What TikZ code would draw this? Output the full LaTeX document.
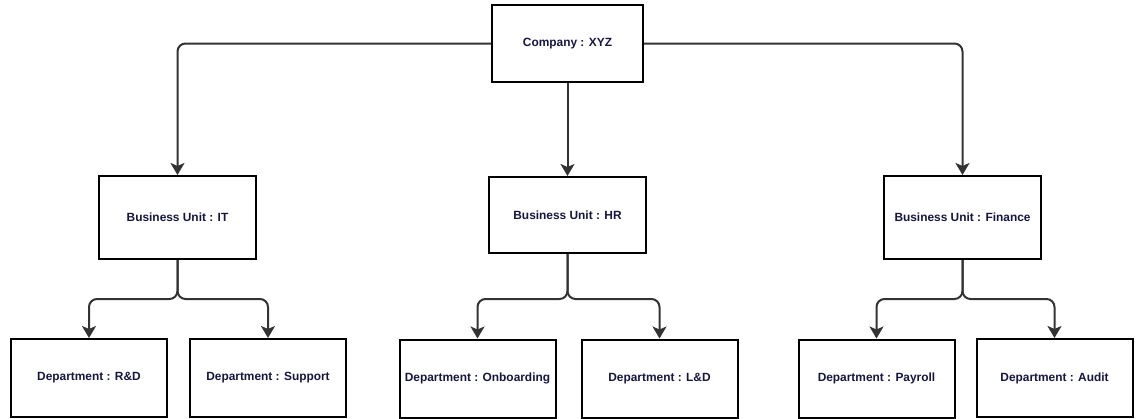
\documentclass[tikz,border=0pt]{standalone}
\usepackage{fontspec}
\setmainfont{Liberation Sans}
\usetikzlibrary{arrows.meta,positioning}
\definecolor{navytext}{HTML}{16163F}
\definecolor{linkgray}{HTML}{333333}

\begin{document}
\begin{tikzpicture}[
  x=1pt, y=-1pt,
  unit/.style={draw=black, line width=2pt, fill=white, inner sep=0pt,
    font=\fontsize{11.9}{13}\selectfont\bfseries, text=navytext},
  top/.style={unit, minimum width=151pt, minimum height=77pt},
  bu/.style={unit, minimum width=157pt, minimum height=83pt},
  dept/.style={unit, minimum width=156pt, minimum height=78pt},
  link/.style={draw=linkgray, line width=2pt, rounded corners=8pt,
    -{Stealth[length=12pt, width=14pt, inset=3pt]}},
]
  \useasboundingbox (0,0) rectangle (1138,418);

  % Company
  \node[top] (xyz) at (567.5, 43.5) {Company : XYZ};

  % Business units
  \node[bu] (it) at (177.5, 217.5) {Business Unit : IT};
  \node[bu, minimum height=76pt] (hr) at (567.5, 215) {Business Unit : HR};
  \node[bu] (fin) at (962.5, 217.5) {Business Unit : Finance};

  % Departments
  \node[dept] (rnd) at (89, 378) {Department : R\&D};
  \node[dept] (sup) at (268, 378) {Department : Support};
  \node[dept] (onb) at (477.5, 378.5) {Department : Onboarding};
  \node[dept] (lnd) at (659.5, 378.5) {Department : L\&D};
  \node[dept] (pay) at (876.5, 378.5) {Department : Payroll};
  \node[dept] (aud) at (1054.5, 378) {Department : Audit};

  % Company to business units
  \draw[link] (xyz.west) -| (it.north);
  \draw[link] (xyz.south) -- (hr.north);
  \draw[link] (xyz.east) -| (fin.north);

  % Business units to departments
  \coordinate (branch) at (0, 299);
  \foreach \bu/\left/\right in {it/rnd/sup, hr/onb/lnd, fin/pay/aud} {
    \coordinate (\bu-split) at (\bu.south |- branch);
    \draw[link] (\bu.south) -- (\bu-split) -| (\left.north);
    \draw[link] (\bu.south) -- (\bu-split) -| (\right.north);
  }
\end{tikzpicture}
\end{document}
